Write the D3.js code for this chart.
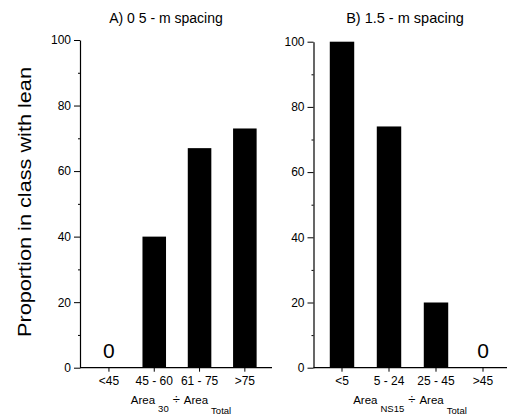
<!DOCTYPE html>
<html><head><meta charset="utf-8">
<script src="https://cdn.jsdelivr.net/npm/d3@7/dist/d3.min.js"></script>
<style>body{margin:0;background:#fff}svg{display:block}text{font-family:"Liberation Sans",Arial,sans-serif;fill:#000}</style>
</head><body>
<script>
const catsA = ["<45", "45 - 60", "61 - 75", ">75"];
const valsA = [0, 40, 67, 73];
const catsB = ["<5", "5 - 24", "25 - 45", ">45"];
const valsB = [100, 74, 20, 0];
const yTicks = [0, 20, 40, 60, 80, 100];
const yMinor = [10, 30, 50, 70, 90];
const titleA = "A) 0 5 - m spacing";
const titleB = "B) 1.5 - m spacing";
const yTitle = "Proportion in class with lean";

const W = 507, H = 417;
const svg = d3.select("body").append("svg").attr("width", W).attr("height", H);

function panel(cfg) {
  const g = svg.append("g");
  const y = d3.scaleLinear().domain([0, 100]).range([cfg.y0, cfg.y1]);
  const x = d3.scaleBand().domain(cfg.cats).range(cfg.xr).paddingInner(0.48).paddingOuter(0.24);
  const rows = cfg.vals.map((v, i) => ({c: cfg.cats[i], v}));
  g.selectAll("rect.bar").data(rows.filter(d => d.v > 0))
    .enter().append("rect").attr("class", "bar")
    .attr("x", d => x(d.c)).attr("width", x.bandwidth())
    .attr("y", d => y(d.v)).attr("height", d => y(0) - y(d.v))
    .attr("fill", "#000");
  g.selectAll("text.zero").data(rows.filter(d => d.v === 0))
    .enter().append("text").attr("class", "zero")
    .attr("x", d => x(d.c) + x.bandwidth() / 2).attr("y", y(0) - 10)
    .attr("text-anchor", "middle").style("font-size", "21px").text("0");
  const ya = g.append("g").attr("transform", `translate(${cfg.ax},0)`)
    .call(d3.axisLeft(y).tickValues(yTicks).tickSize(6).tickPadding(3).tickSizeOuter(0));
  ya.select(".domain").attr("stroke", "#000").attr("stroke-width", 1.2);
  ya.selectAll(".tick line").attr("stroke", "#000");
  ya.selectAll(".tick text").style("font-size", "12px").style("font-family", "Liberation Sans, Arial, sans-serif");
  g.append("g").attr("transform", `translate(${cfg.ax},0)`)
    .call(d3.axisLeft(y).tickValues(yMinor).tickSize(2).tickFormat(""))
    .select(".domain").remove();
  const xa = g.append("g").attr("transform", `translate(0,${y(0)})`)
    .call(d3.axisBottom(x).tickSize(4).tickPadding(5).tickSizeOuter(0));
  xa.select(".domain").attr("d", `M${cfg.ax},0H${cfg.xEnd}`).attr("stroke", "#000").attr("stroke-width", 1.2);
  xa.selectAll(".tick line").attr("stroke", "#000");
  xa.selectAll(".tick text").style("font-size", "12px").style("font-family", "Liberation Sans, Arial, sans-serif");
  g.append("text").attr("x", cfg.tx).attr("y", 23).attr("text-anchor", "middle")
    .style("font-size", cfg.tfs).text(cfg.title);
  const t = g.append("text").attr("x", cfg.xtx).attr("y", 404).attr("text-anchor", "middle").style("font-size", "11.5px");
  t.append("tspan").text("Area");
  t.append("tspan").attr("dx", 3).attr("dy", 8).style("font-size", "9.5px").text(cfg.sub1);
  t.append("tspan").attr("dx", 4).attr("dy", -8).style("font-size", "13px").text("÷");
  t.append("tspan").attr("dx", 4).text("Area");
  t.append("tspan").attr("dx", 3).attr("dy", 10).style("font-size", "9.5px").text("Total");
}

panel({cats: catsA, vals: valsA, y0: 367.7, y1: 40, ax: 80, xr: [86.3, 267.5], xEnd: 272,
  title: titleA, tx: 166, tfs: "14px", sub1: "30", xtx: 181});
panel({cats: catsB, vals: valsB, y0: 367.7, y1: 41.7, ax: 313.5, xr: [318.5, 506.5], xEnd: 507,
  title: titleB, tx: 405, tfs: "14.5px", sub1: "NS15", xtx: 410});

svg.append("text").attr("transform", "translate(31,202) rotate(-90)")
  .attr("x", -135).attr("y", 0)
  .attr("textLength", 270).attr("lengthAdjust", "spacingAndGlyphs")
  .style("font-size", "18.5px").text(yTitle);
</script>
</body></html>
